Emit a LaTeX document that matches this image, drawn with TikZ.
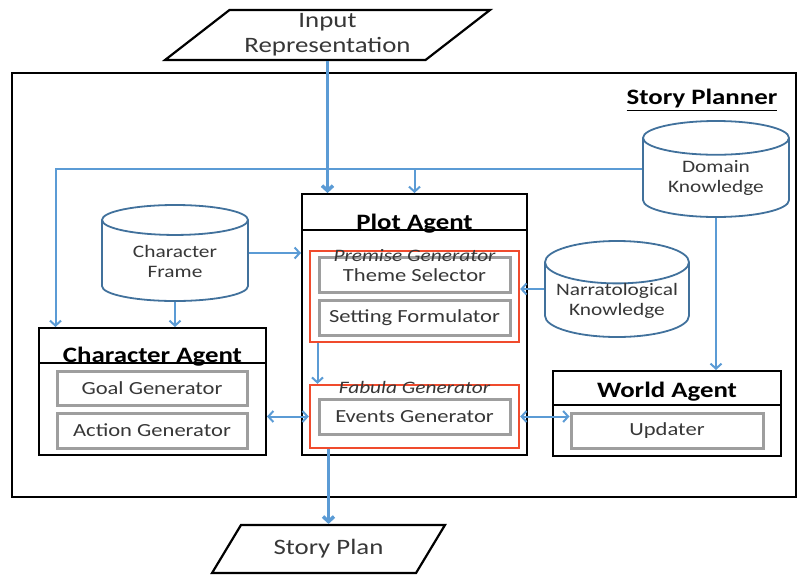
\documentclass[tikz,border=0pt]{standalone}
\usepackage{fontspec}
\setmainfont{Carlito}[FakeStretch=1.22]
\usetikzlibrary{arrows.meta,shapes.geometric,positioning}
\definecolor{linkblue}{RGB}{91,155,213}
\definecolor{dbblue}{RGB}{65,113,156}
\definecolor{genred}{RGB}{240,75,45}
\definecolor{txtgray}{RGB}{55,55,55}

\begin{document}
\begin{tikzpicture}[x=1pt, y=-1pt,
    io/.style={trapezium, draw, line width=2.2pt, trapezium stretches=true, inner sep=0pt, align=center, font=\fontsize{22}{25}\selectfont, text=txtgray},
    db/.style={cylinder, shape border rotate=90, aspect=0.33, draw=dbblue, line width=1.8pt, minimum width=146, minimum height=96, anchor=shape center, align=center, text height=28pt, font=\fontsize{17.5}{20}\selectfont, text=txtgray},
    agent/.style={draw, line width=2pt, inner sep=0pt},
    agenthead/.style={agent, text depth=0pt, font=\fontsize{22}{24}\selectfont\bfseries},
    gen/.style={draw=genred, line width=2.4pt, minimum width=209},
    genlabel/.style={font=\fontsize{17.5}{20}\selectfont\itshape, text=txtgray, inner sep=0pt},
    module/.style={draw=black!38, line width=3pt, minimum width=191, minimum height=35, font=\fontsize{18.5}{20}\selectfont, text=txtgray},
    arr/.style={draw=linkblue, line width=2pt, -{Straight Barb[length=5pt,width=11pt]}},
    biarr/.style={arr, {Straight Barb[length=5pt,width=11pt]}-{Straight Barb[length=5pt,width=11pt]}},
    bigarr/.style={arr, line width=3.5pt}
]
\useasboundingbox (0,0) rectangle (797,576);

\node[draw, line width=2pt, minimum width=784, minimum height=424] (planner) at (404,285) {};
\node[font=\fontsize{22}{24}\selectfont\bfseries] (title) at (702,100) {\underline{Story Planner}};

% input and output
\node[io, minimum width=325, minimum height=50, trapezium left angle=38, trapezium right angle=142] (inp) at (327.5,35) {Input\\Representation};
\node[io, minimum width=233, minimum height=48, trapezium left angle=46, trapezium right angle=134] (plan) at (328.5,549) {Story Plan};

% knowledge bases
\node[db] (dom) at (716,169) {Domain\\Knowledge};
\node[db] (cf) at (175,253) {Character\\Frame};
\node[db, minimum width=144] (nar) at (617,289) {Narratological\\Knowledge};

% plot agent
\node[agenthead, minimum width=225, minimum height=36, text height=34] (plot) at (414.5,212) {Plot Agent};
\node[agent, minimum width=225, minimum height=225] (plotbody) at (414.5,342.5) {};
\node[gen, minimum height=91] (prem) at (414.5,296.5) {};
\node[module] (theme) at (414.5,275) {Theme Selector};
\node[module] (setting) at (414.5,317.5) {Setting Formulator};
\node[genlabel] (premlbl) at (414.5,256) {Premise Generator};
\node[gen, minimum height=63] (fab) at (414.5,416.5) {};
\node[module] (events) at (414.5,416.5) {Events Generator};
\node[genlabel] (fablbl) at (414.5,387) {Fabula Generator};

% character agent
\node[agenthead, minimum width=227, minimum height=35, text height=33] (chr) at (152.5,345.5) {Character Agent};
\node[agent, minimum width=227, minimum height=92] (chrbody) at (152.5,409) {};
\node[module, minimum width=190, minimum height=34] (goal) at (152,388) {Goal Generator};
\node[module, minimum width=190] (action) at (152,430.5) {Action Generator};

% world agent
\node[agenthead, minimum width=228, minimum height=34, text height=18] (wld) at (667,388) {World Agent};
\node[agent, minimum width=228, minimum height=51] (wldbody) at (667,430.5) {};
\node[module, minimum width=192] (upd) at (667,430.5) {Updater};

% connections
\draw[bigarr] (inp.south) -- (inp.south |- plot.north);
\draw[bigarr] (fab.south -| plan.north) -- (plan.north);
\draw[arr] (dom.shape center -| dom.west) -| (goal.west |- chr.north);
\draw[arr] (plot.north |- dom.shape center) -- (plot.north);
\draw[arr] (dom.south) -- (dom.south |- wld.north);
\draw[arr] (cf.shape center -| cf.east) -- (cf.shape center -| plot.west);
\draw[arr] (cf.south) -- (cf.south |- chr.north);
\draw[arr] (nar.shape center -| nar.west) -- (nar.shape center -| prem.east);
\draw[arr] (prem.south -| theme.west) -- (fab.north -| theme.west);
\draw[biarr] (fab.west -| chr.east) -- (fab.west);
\draw[biarr] (fab.east) -- (fab.east -| upd.west);
\end{tikzpicture}
\end{document}
